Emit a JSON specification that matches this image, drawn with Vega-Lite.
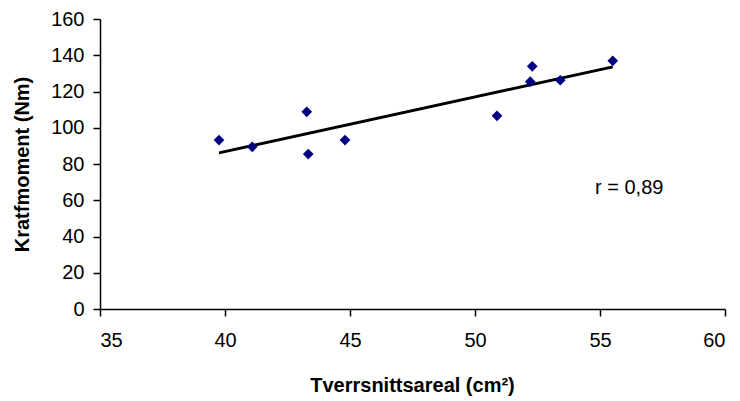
{
  "$schema": "https://vega.github.io/schema/vega-lite/v6.json",
  "width": 625,
  "height": 290,
  "autosize": "none",
  "padding": {"left": 100, "top": 19, "right": 15, "bottom": 92},
  "background": "white",
  "config": {
    "view": {"stroke": null},
    "font": "Liberation Sans",
    "axis": {
      "domainColor": "black",
      "domainWidth": 1.5,
      "tickColor": "black",
      "tickWidth": 1.5,
      "tickSize": 7,
      "grid": false,
      "labelOverlap": false,
      "labelFont": "Liberation Sans",
      "labelFontSize": 20,
      "labelColor": "black",
      "titleFont": "Liberation Sans",
      "titleFontSize": 20,
      "titleFontWeight": "bold",
      "titleColor": "black"
    }
  },
  "data": {
    "values": [
      {"areal": 39.76, "moment": 93.2},
      {"areal": 41.09, "moment": 89.5},
      {"areal": 43.27, "moment": 108.8},
      {"areal": 43.33, "moment": 85.5},
      {"areal": 44.8, "moment": 93.2},
      {"areal": 50.88, "moment": 106.6},
      {"areal": 52.29, "moment": 133.9},
      {"areal": 52.21, "moment": 125.4},
      {"areal": 53.41, "moment": 126.2},
      {"areal": 55.51, "moment": 136.9}
    ]
  },
  "encoding": {
    "x": {
      "field": "areal",
      "type": "quantitative",
      "scale": {"domain": [35, 60], "nice": false, "zero": false},
      "axis": {
        "title": "Tverrsnittsareal (cm²)",
        "values": [35, 40, 45, 50, 55, 60],
        "labelPadding": 14,
        "titleX": 312,
        "titleY": 76,
        "titleBaseline": "middle"
      }
    },
    "y": {
      "field": "moment",
      "type": "quantitative",
      "scale": {"domain": [0, 160], "nice": false},
      "axis": {
        "title": "Kratfmoment (Nm)",
        "values": [0, 20, 40, 60, 80, 100, 120, 140, 160],
        "labelPadding": 9,
        "titleX": -78,
        "titleY": 145,
        "titleBaseline": "middle",
        "titleAlign": "center",
        "titleAngle": -90
      }
    }
  },
  "layer": [
    {
      "transform": [{"regression": "moment", "on": "areal"}],
      "mark": {"type": "line", "color": "black", "strokeWidth": 3}
    },
    {
      "mark": {"type": "point", "shape": "diamond", "filled": true, "color": "#000080", "size": 115, "opacity": 1}
    },
    {
      "data": {"values": [{"label": "r = 0,89", "areal": 54.8, "moment": 66.7}]},
      "mark": {"type": "text", "align": "left", "baseline": "middle", "fontSize": 20, "color": "black", "font": "Liberation Sans"},
      "encoding": {
        "text": {"field": "label"}
      }
    }
  ]
}
